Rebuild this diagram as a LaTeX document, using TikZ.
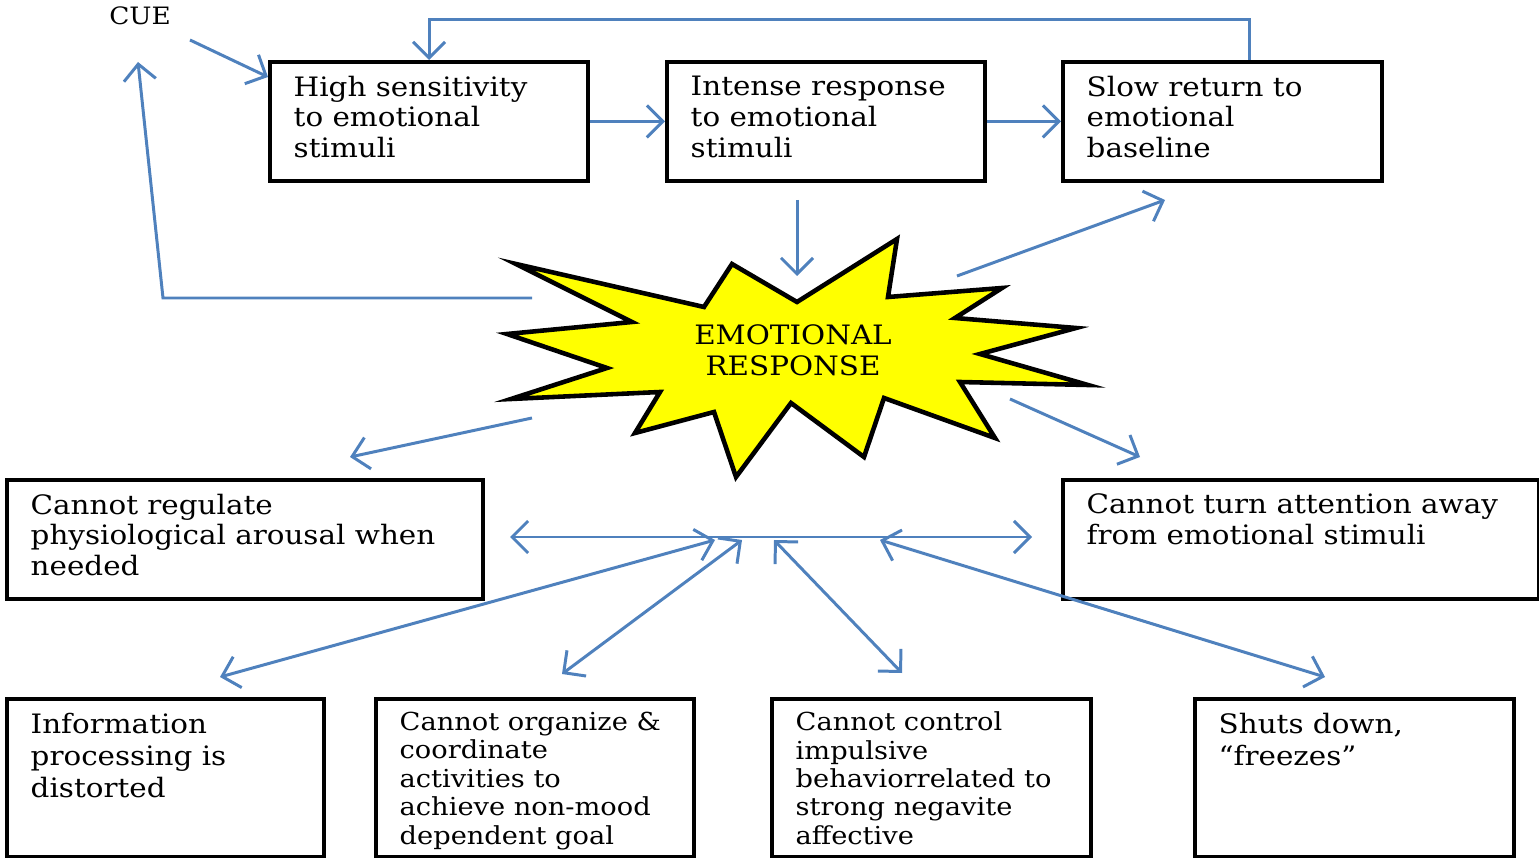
\documentclass[tikz,border=0pt]{standalone}
\usepackage{fontspec}
\setmainfont{DejaVu Serif}[FakeStretch=1.1]
\usetikzlibrary{positioning,arrows.meta}
\definecolor{linkblue}{RGB}{79,129,189}
\definecolor{burstyellow}{RGB}{255,255,0}

\begin{document}
\begin{tikzpicture}[
  x=0.01cm, y=-0.01cm,
  box/.style={draw, line width=1.1pt, anchor=north west, inner sep=0pt},
  txt/.style={anchor=north west, align=left, inner sep=0pt,
              font=\fontsize{7.6}{8.8}\selectfont},
  tight/.style={txt, font=\fontsize{7.05}{8.1}\selectfont},
  loose/.style={txt, font=\fontsize{7.6}{9.1}\selectfont},
  link/.style={draw=linkblue, line width=0.85pt},
  >={Straight Barb[length=1.6mm,width=3.2mm]}
]
\useasboundingbox (0,0) rectangle (1539,858);

% boxes
\node[box, minimum width=3.18cm, minimum height=1.19cm] (hs) at (268,60) {};
\node[box, minimum width=3.18cm, minimum height=1.19cm] (ir) at (665,60) {};
\node[box, minimum width=3.19cm, minimum height=1.19cm] (sr) at (1061,60) {};
\node[box, minimum width=4.76cm, minimum height=1.19cm] (reg) at (5,478) {};
\node[box, minimum width=4.76cm, minimum height=1.19cm] (att) at (1061,478) {};
\node[box, minimum width=3.17cm, minimum height=1.58cm] (info) at (5,697) {};
\node[box, minimum width=3.18cm, minimum height=1.58cm] (org) at (374,697) {};
\node[box, minimum width=3.19cm, minimum height=1.58cm] (ctl) at (770,697) {};
\node[box, minimum width=3.19cm, minimum height=1.58cm] (shut) at (1193,697) {};

% box texts
\node[txt] (hs-t) at ([shift={(25,15)}]hs.north west)
  {High sensitivity\\to emotional\\stimuli};
\node[txt] (ir-t) at ([shift={(25,15)}]ir.north west)
  {Intense response\\to emotional\\stimuli};
\node[txt] (sr-t) at ([shift={(25,15)}]sr.north west)
  {Slow return to\\emotional\\baseline};
\node[txt] (reg-t) at ([shift={(25,15)}]reg.north west)
  {Cannot regulate\\physiological arousal when\\needed};
\node[txt] (att-t) at ([shift={(25,15)}]att.north west)
  {Cannot turn attention away\\from emotional stimuli};
\node[loose] (info-t) at ([shift={(25,15)}]info.north west)
  {Information\\processing is\\distorted};
\node[tight] (org-t) at ([shift={(25,14)}]org.north west)
  {Cannot organize \&\\coordinate\\activities to\\achieve non-mood\\dependent goal};
\node[tight] (ctl-t) at ([shift={(25,14)}]ctl.north west)
  {Cannot control\\impulsive\\behaviorrelated to\\strong negavite\\affective};
\node[loose] (shut-t) at ([shift={(25,15)}]shut.north west)
  {Shuts down,\\“freezes”};

\node[font=\fontsize{6.8}{8}\selectfont] (cue) at (140,16) {CUE};

% starburst
\draw[fill=burstyellow, line width=1.3pt, line join=miter]
  (516,264) -- (704,307) -- (732,264) -- (797,302) -- (897,239)
  -- (888,297) -- (1002,288) -- (955,318) -- (1076,328) -- (980,354)
  -- (1088,385) -- (960,382) -- (995,438) -- (884,398) -- (864,457)
  -- (791,403) -- (736,477) -- (714,412) -- (635,433) -- (660,392)
  -- (511,399) -- (607,368) -- (507,334) -- (632,322) -- cycle;
\node[align=center, font=\fontsize{7.6}{8.8}\selectfont] (emo) at (793,350)
  {EMOTIONAL\\RESPONSE};

% arrow end points
\coordinate (cueOut) at (190,40);
\coordinate (cueIn) at (138,62);
\coordinate (bendW) at (163,298);
\coordinate (burstW) at (532,298);
\coordinate (burstN) at (797,276);
\coordinate (irOut) at (797,200);
\coordinate (burstNE) at (957,276);
\coordinate (srIn) at (1165,200);
\coordinate (burstSW) at (532,418);
\coordinate (regIn) at (350,457);
\coordinate (burstSE) at (1010,399);
\coordinate (attIn) at (1140,457);
\coordinate (lineW) at (510,537);
\coordinate (lineE) at (1032,537);
\coordinate (hubA) at (715,540);
\coordinate (hubB) at (742,540);
\coordinate (hubC) at (774,540);
\coordinate (hubD) at (880,540);
\coordinate (infoIn) at (220,677);
\coordinate (orgIn) at (562,674);
\coordinate (ctlIn) at (902,673);
\coordinate (shutIn) at (1325,677);

% connectors
\draw[link,->] (cueOut) -- (hs.west |- 0,77);
\draw[link,->] ([xshift=2.7mm]sr.north) -- ++(0,-40) -| (hs.north);
\draw[link,->] (hs) -- (ir);
\draw[link,->] (ir) -- (sr);
\draw[link,->] (irOut) -- (burstN);
\draw[link,->] (burstW) -- (bendW) -- (cueIn);
\draw[link,->] (burstNE) -- (srIn);
\draw[link,->] (burstSW) -- (regIn);
\draw[link,->] (burstSE) -- (attIn);
\draw[link,<->] (lineW) -- (lineE);
\draw[link,<->] (hubA) -- (infoIn);
\draw[link,<->] (hubB) -- (orgIn);
\draw[link,<->] (hubC) -- (ctlIn);
\draw[link,<->] (hubD) -- (shutIn);
\end{tikzpicture}
\end{document}
